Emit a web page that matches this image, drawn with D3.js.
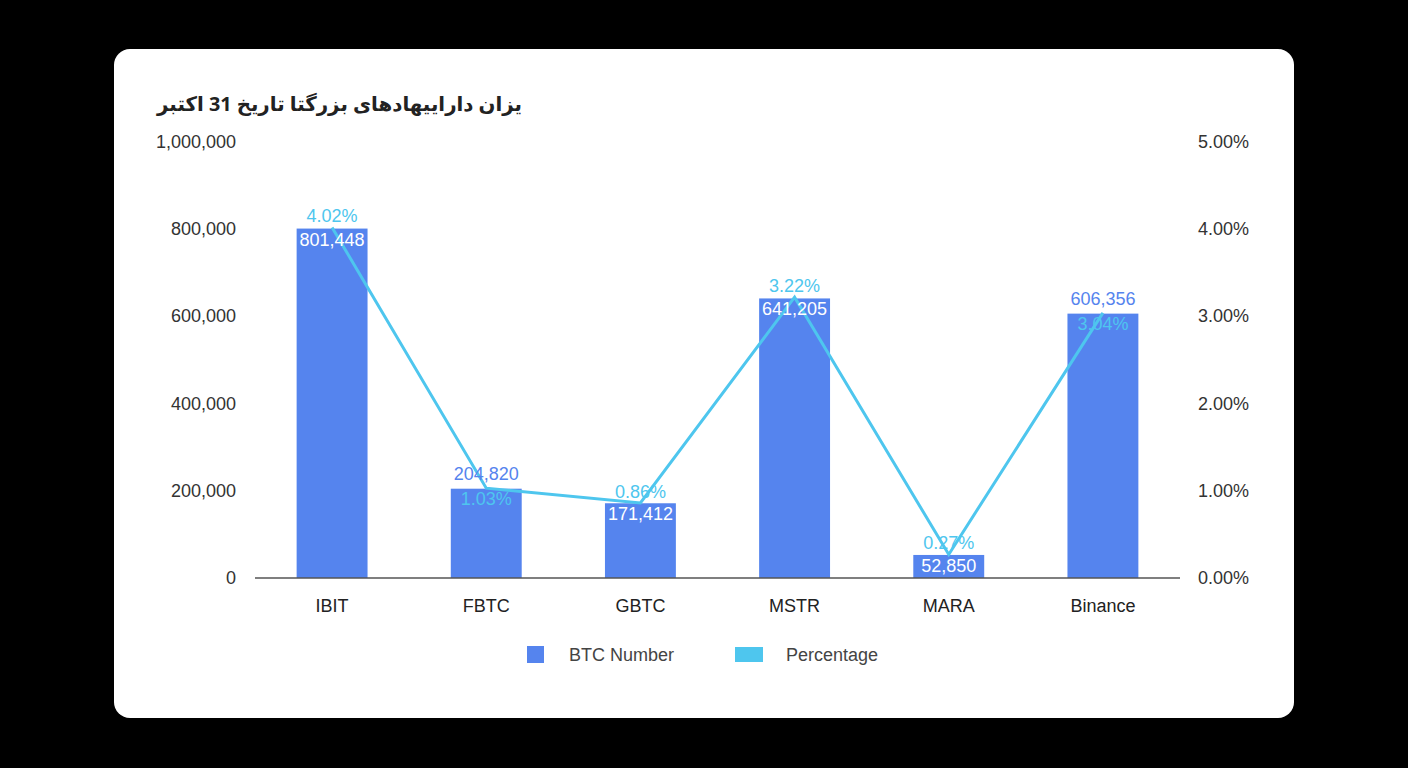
<!DOCTYPE html><html><head><meta charset="utf-8"><script src="https://cdn.jsdelivr.net/npm/d3@7"></script>
<style>body{margin:0;background:#000;}svg{display:block}</style></head><body><svg id="c" width="1408" height="768"></svg>
<script>
const categories=["IBIT","FBTC","GBTC","MSTR","MARA","Binance"];
const btcNumber=[801448,204820,171412,641205,52850,606356];
const percentage=[4.02,1.03,0.86,3.22,0.27,3.04];
const barLabelAbove=[false,true,false,false,false,true];
const leftTicks=[0,200000,400000,600000,800000,1000000];
const rightTicks=[0,1,2,3,4,5];
const title="یزان داراییهادهای بزرگتا تاریخ 31 اکتبر";

const svg=d3.select("#c");
svg.append("rect").attr("x",114).attr("y",49).attr("width",1180).attr("height",669).attr("rx",16).attr("fill","#fff");
const F="Liberation Sans, Arial, sans-serif";
svg.append("text").attr("x",157).attr("y",111).attr("text-anchor","start").attr("font-family","Noto Sans, DejaVu Sans, sans-serif").attr("font-weight","bold").attr("font-size",20).attr("fill","#222").attr("textLength",365).attr("lengthAdjust","spacingAndGlyphs").text(title);
const x=d3.scaleBand().domain(categories).range([255,1180]).paddingInner(0.54).paddingOuter(0.27);
const y=d3.scaleLinear().domain([0,1000000]).range([578,142]);
const y2=d3.scaleLinear().domain([0,5]).range([578,142]);
const fmt=d3.format(",");
leftTicks.forEach(t=>svg.append("text").attr("x",236).attr("y",y(t)+6).attr("text-anchor","end").attr("font-family",F).attr("font-size",18).attr("fill","#333").text(fmt(t)));
rightTicks.forEach(t=>svg.append("text").attr("x",1198).attr("y",y2(t)+6).attr("font-family",F).attr("font-size",18).attr("fill","#333").text(t.toFixed(2)+"%"));
const cx=c=>x(c)+x.bandwidth()/2;
svg.selectAll(".b").data(categories).enter().append("rect").attr("x",d=>x(d)).attr("width",x.bandwidth()).attr("y",(d,i)=>y(btcNumber[i])).attr("height",(d,i)=>578-y(btcNumber[i])).attr("fill","#5584EE");
svg.append("line").attr("x1",255).attr("x2",1180).attr("y1",578).attr("y2",578).attr("stroke","#555").attr("stroke-width",1.5);
categories.forEach(c=>svg.append("text").attr("x",cx(c)).attr("y",612).attr("text-anchor","middle").attr("font-family",F).attr("font-size",18).attr("fill","#222").text(c));
svg.append("path").datum(categories).attr("d",d3.line().x(d=>cx(d)).y((d,i)=>y2(percentage[i]))).attr("fill","none").attr("stroke","#4EC6EE").attr("stroke-width",3);
categories.forEach((c,i)=>{
  const by=y(btcNumber[i]),py=y2(percentage[i]);
  const a=barLabelAbove[i];
  svg.append("text").attr("x",cx(c)).attr("y",a?by-9:by+17).attr("text-anchor","middle").attr("font-family",F).attr("font-size",18).attr("fill",a?"#5584EE":"#fff").text(fmt(btcNumber[i]));
  svg.append("text").attr("x",cx(c)).attr("y",a?py+17:py-5).attr("text-anchor","middle").attr("font-family",F).attr("font-size",18).attr("fill","#4EC6EE").text(percentage[i].toFixed(2)+"%");
});
svg.append("rect").attr("x",527).attr("y",646).attr("width",17).attr("height",17).attr("fill","#5584EE");
svg.append("text").attr("x",569).attr("y",661).attr("font-family",F).attr("font-size",18).attr("fill","#444").text("BTC Number");
svg.append("rect").attr("x",735).attr("y",647).attr("width",28).attr("height",15).attr("fill","#4EC6EE");
svg.append("text").attr("x",786).attr("y",661).attr("font-family",F).attr("font-size",18).attr("fill","#444").text("Percentage");
</script></body></html>
